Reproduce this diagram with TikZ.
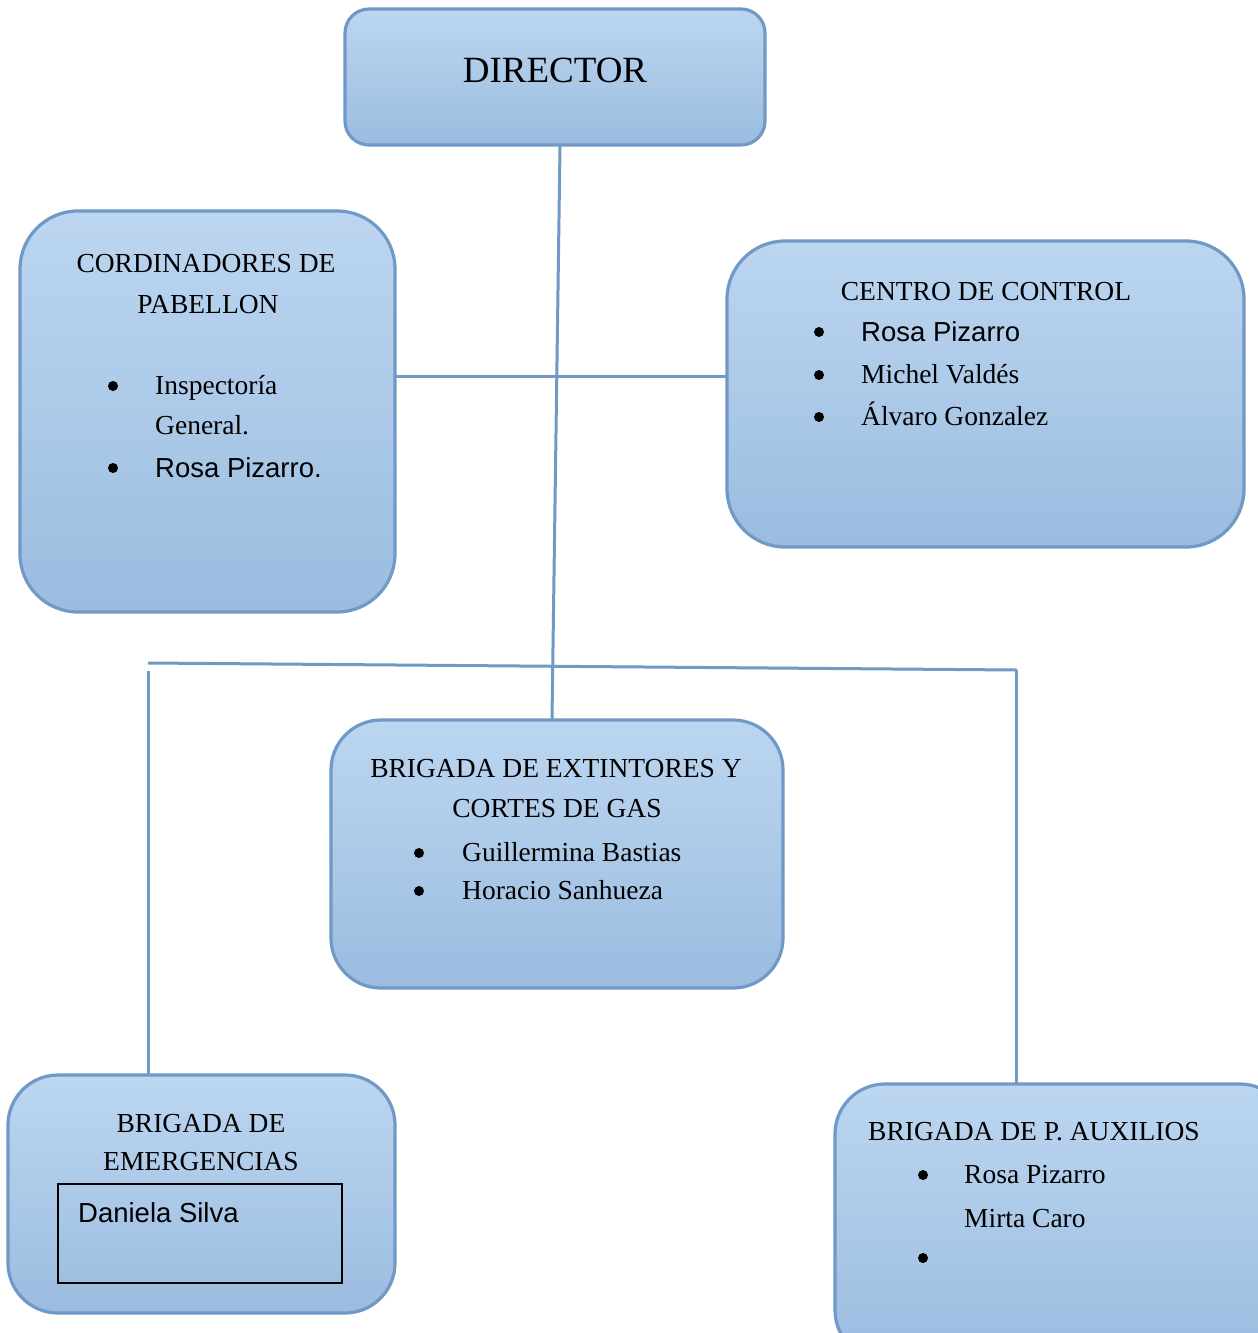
\documentclass[tikz,border=0pt]{standalone}
\usepackage{fontspec}
\setmainfont{Liberation Serif}
\newfontfamily\arial{Liberation Sans}
\usetikzlibrary{calc}
\definecolor{boxtop}{RGB}{188,214,240}
\definecolor{boxbot}{RGB}{155,188,224}
\definecolor{boxline}{RGB}{112,153,197}
\tikzset{
  orgbox/.style={draw=boxline, line width=3.2pt, top color=boxtop, bottom color=boxbot, middle color={rgb,255:red,172;green,201;blue,232}},
  conn/.style={draw=boxline, line width=3pt},
  txt/.style={inner sep=0pt, font=\fontsize{27.5}{32}\selectfont, anchor=base west},
  ctxt/.style={inner sep=0pt, font=\fontsize{27.5}{32}\selectfont, anchor=base},
  atxt/.style={inner sep=0pt, font=\arial\fontsize{27.5}{32}\selectfont, anchor=base west},
  bul/.style={circle, fill=black, inner sep=0pt, minimum size=10pt}
}
\begin{document}
\begin{tikzpicture}[x=1pt,y=-1pt]
\clip (0,0) rectangle (1258,1333);
\fill[white] (0,0) rectangle (1258,1333);
% boxes
\path[orgbox, rounded corners=24pt] (345,9) rectangle (765,145);
\node[inner sep=0pt, minimum width=420pt, minimum height=136pt, anchor=north west] (dir) at (345,9) {};
\path[orgbox, rounded corners=58pt] (20,211) rectangle (395,612);
\node[inner sep=0pt, minimum width=375pt, minimum height=401pt, anchor=north west] (cord) at (20,211) {};
\path[orgbox, rounded corners=58pt] (727,241) rectangle (1244,547);
\node[inner sep=0pt, minimum width=517pt, minimum height=306pt, anchor=north west] (cc) at (727,241) {};
\path[orgbox, rounded corners=50pt] (331,720) rectangle (783,988);
\node[inner sep=0pt, minimum width=452pt, minimum height=268pt, anchor=north west] (ext) at (331,720) {};
\path[orgbox, rounded corners=50pt] (8,1075) rectangle (395,1313);
\node[inner sep=0pt, minimum width=387pt, minimum height=238pt, anchor=north west] (emer) at (8,1075) {};
\path[orgbox, rounded corners=50pt] (835,1084) rectangle (1290,1360);
\node[inner sep=0pt, minimum width=455pt, minimum height=276pt, anchor=north west] (aux) at (835,1084) {};
% inner box
\node[draw=black, line width=1.8pt, inner sep=0pt, minimum width=284pt, minimum height=99pt, anchor=north west] (ds) at (57,1183) {};

% connectors
\coordinate (d1) at (560,146);
\coordinate (d2) at (552,719);
\draw[conn] (d1) -- (d2);
\coordinate (h1a) at (396,376);
\coordinate (h1b) at (726,376);
\draw[conn] (h1a) -- (h1b);
\coordinate (h2a) at (148,663);
\coordinate (h2b) at (1017,670);
\draw[conn] (h2a) -- (h2b);
\coordinate (vl) at (148,671);
\coordinate (vlb) at (148,1075);
\draw[conn] (vl) -- (vlb);
\coordinate (vr) at (1016,670);
\coordinate (vrb) at (1016,1084);
\draw[conn] (vr) -- (vrb);

% texts
\node[inner sep=0pt, anchor=base, font=\fontsize{37}{40}\selectfont] (tdir) at (555,82) {DIRECTOR};

\node[ctxt] (tc1) at (206,272) {CORDINADORES DE};
\node[ctxt] (tc2) at (208,313) {PABELLON};
\node[bul] (bc1) at (113,386) {};
\node[txt] (tc3) at (155,394) {Inspectoría};
\node[txt] (tc4) at (155,434) {General.};
\node[bul] (bc2) at (113,468) {};
\node[atxt] (tc5) at (155,477) {Rosa Pizarro.};

\node[ctxt] (tcc1) at (986,300) {CENTRO DE CONTROL};
\node[bul] (bcc1) at (819,332) {};
\node[atxt] (tcc2) at (861,341) {Rosa Pizarro};
\node[bul] (bcc2) at (819,375) {};
\node[txt] (tcc3) at (861,383) {Michel Valdés};
\node[bul] (bcc3) at (819,417) {};
\node[txt] (tcc4) at (861,425) {Álvaro Gonzalez};

\node[ctxt] (te1) at (556,777) {BRIGADA DE EXTINTORES Y};
\node[ctxt] (te2) at (557,817) {CORTES DE GAS};
\node[bul] (be1) at (419,853) {};
\node[txt] (te3) at (462,861) {Guillermina Bastias};
\node[bul] (be2) at (419,891) {};
\node[txt] (te4) at (462,899) {Horacio Sanhueza};

\node[ctxt] (tm1) at (201,1132) {BRIGADA DE};
\node[ctxt] (tm2) at (201,1170) {EMERGENCIAS};
\node[atxt] (tm3) at (78,1222) {Daniela Silva};

\node[txt] (ta1) at (868,1140) {BRIGADA DE P. AUXILIOS};
\node[bul] (ba1) at (923,1175) {};
\node[txt] (ta2) at (964,1183) {Rosa Pizarro};
\node[txt] (ta3) at (964,1227) {Mirta Caro};
\node[bul] (ba2) at (923,1258) {};
\end{tikzpicture}
\end{document}
